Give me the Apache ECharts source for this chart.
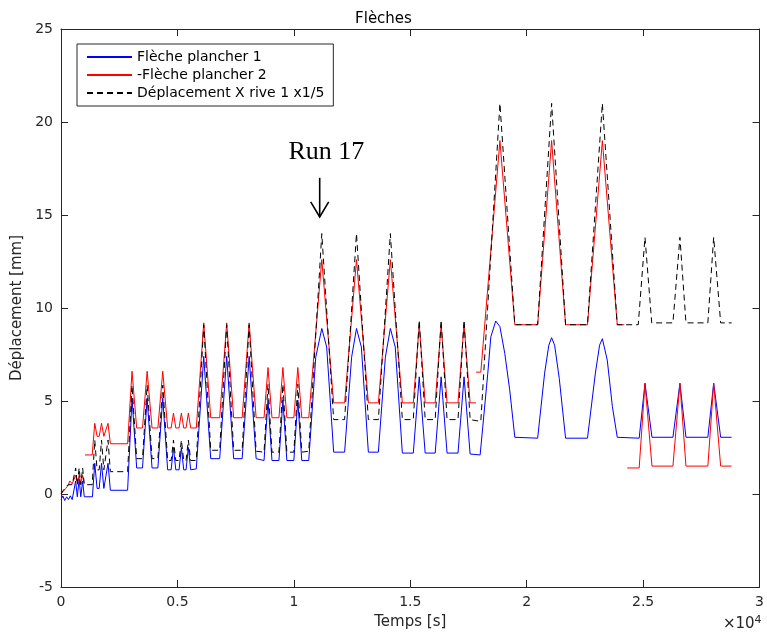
<!DOCTYPE html>
<html><head><meta charset="utf-8">
<script src="https://cdn.jsdelivr.net/npm/echarts@6/dist/echarts.min.js"></script>
<style>html,body{margin:0;padding:0;background:#fff}#c{width:767px;height:635px}</style>
</head><body><div id="c"></div>
<script>
// ---- Data (time in s, displacement in mm) ----
const seriesNames = ['Flèche plancher 1', '-Flèche plancher 2', 'Déplacement X rive 1 x1/5'];
const xTicks = [0, 5000, 10000, 15000, 20000, 25000, 30000];
const yTicks = [-5, 0, 5, 10, 15, 20, 25];

const tBlue = [0,80,160,240,320,400,480,560,630,700,780,850,930,1000,1350,1450,1550,1640,1740,1840,1920,2020,2120,2860,
  3050,3250,3500,3700,3910,4160,4370,4580,4730,4830,4930,5070,5170,5270,5370,5470,5570,5810,
  6130,6430,6815,7115,7415,7780,8080,8380,8720,8890,9060,9360,9530,9700,10000,10170,10340,10640,
  10940,11200,11410,11710,12180,12480,12690,12900,13200,13630,13930,14145,14355,14660,
  15130,15385,15640,16070,16325,16580,17050,17310,17570,18000,
  18330,18460,18670,18850,19060,19270,19490,20470,20770,20950,21070,21200,21400,21670,
  22610,22950,23130,23250,23460,23680,23890,24830,25080,25380,26280,26580,26840,27780,28030,28330,28800];
const vBlue = [-0.3,-0.1,-0.35,-0.15,-0.3,-0.1,-0.3,-0.2,0.7,-0.15,0.8,-0.15,0.7,-0.15,-0.15,1.65,0.3,0.3,1.65,0.3,0.3,1.65,0.2,0.2,
  5.15,1.4,1.4,5.15,1.4,1.4,5.15,1.3,1.3,2.5,1.3,1.3,2.5,1.3,1.3,2.5,1.3,1.35,
  7.4,1.9,1.9,7.4,1.9,1.9,7.4,1.9,1.8,5.05,1.8,1.8,5.05,1.8,1.8,5.05,1.8,1.8,
  7.35,8.9,7.9,2.25,2.25,7.35,8.9,7.9,2.25,2.25,7.35,8.9,7.9,2.2,
  2.2,6.3,2.2,2.2,6.3,2.2,2.2,6.3,2.15,2.1,
  6.5,8.45,9.3,9.0,7.55,5.6,3.05,3.0,6.5,8.0,8.4,8.0,6.2,3.0,
  3.0,6.5,8.0,8.35,7.2,4.7,3.05,3.0,5.95,3.05,3.05,5.95,3.05,3.05,5.95,3.05,3.05];

const tRed = [0,100,200,300,380,480,560,630,700,780,850,930,990,1010,1030,1340,1450,1550,1640,1740,1840,1920,2020,2120,2860,
  3050,3250,3500,3700,3910,4160,4370,4580,4730,4830,4930,5070,5170,5270,5370,5470,5570,5810,
  6130,6430,6815,7115,7415,7780,8080,8380,8720,8890,9060,9360,9530,9700,10000,10170,10340,10640,
  11200,11710,12180,12690,13200,13630,14145,14660,15130,15385,15640,16070,16325,16580,17050,17310,17570,17820,17825,17830,18030,
  18850,19490,20470,21070,21670,22610,23250,23890,24190,24250,24320,24830,25080,25380,26280,26580,26840,27780,28030,28330,28800];
const vRed = [0,0.15,0.3,0.45,0.7,0.55,0.6,1.0,0.6,1.0,0.6,1.0,0.6,null,2.1,2.1,3.8,3.1,3.1,3.8,3.1,3.1,3.8,2.7,2.7,
  6.6,3.55,3.55,6.6,3.55,3.55,6.6,3.55,3.55,4.35,3.55,3.55,4.35,3.55,3.55,4.35,3.55,3.55,
  9.2,4.1,4.1,9.2,4.1,4.1,9.2,4.1,4.1,6.8,4.1,4.1,6.8,4.1,4.1,6.8,4.1,4.1,
  12.6,4.9,4.9,12.6,4.9,4.9,12.6,4.9,4.9,9.1,4.9,4.9,9.1,4.9,4.9,9.1,4.9,4.9,null,6.55,6.55,
  19.0,9.1,9.1,19.0,9.1,9.1,19.0,9.1,9.1,null,1.4,1.4,5.95,1.5,1.5,5.95,1.5,1.5,5.95,1.5,1.5];

const tBlack = [0,100,200,300,380,480,560,630,700,780,850,930,1000,1340,1450,1550,1640,1740,1840,1920,2020,2120,2860,
  3050,3250,3500,3700,3910,4160,4370,4580,4730,4830,4930,5070,5170,5270,5370,5470,5570,5810,
  6130,6430,6815,7115,7415,7780,8080,8380,8720,8890,9060,9360,9530,9700,10000,10170,10340,10640,
  11200,11710,12180,12690,13200,13630,14145,14660,15130,15385,15640,16070,16325,16580,17050,17310,17570,18030,
  18850,19490,20470,21070,21670,22610,23250,23890,24790,25080,25370,26280,26580,26840,27780,28030,28330,28800];
const vBlack = [0,0.2,0.35,0.5,0.6,0.5,0.5,1.4,0.5,1.4,0.5,1.4,0.5,0.5,2.9,1.3,1.3,2.9,1.3,1.3,2.9,1.2,1.2,
  5.85,1.9,1.9,5.85,1.9,1.9,5.85,1.8,1.8,2.9,1.8,1.8,2.9,1.8,1.8,2.9,1.8,1.8,
  9.1,2.35,2.35,9.1,2.35,2.35,9.1,2.3,2.25,5.9,2.25,2.25,5.9,2.25,2.25,5.9,2.25,2.3,
  14.0,4.0,4.0,14.0,4.0,4.0,14.0,4.0,4.0,9.35,4.0,4.0,9.35,4.0,4.0,9.35,4.0,3.9,
  21.0,9.1,9.1,21.0,9.1,9.1,21.0,9.1,9.1,13.8,9.2,9.2,13.8,9.2,9.2,13.8,9.2,9.2];

// annotation anchor (data coords)
const runLabel = 'Run 17';
const runArrow = {t: 11110, yTop: 17.0, yTip: 14.9, textY: 18.4, textT: 11400};

// ---- Chart ----
const pairs = (t, v) => t.map((x, i) => [x, v[i] === null ? null : v[i]]);
const FONT = 'DejaVu Sans';
const AX = '#262626';
const chart = echarts.init(document.getElementById('c'), null, {renderer: 'canvas'});

const axCommon = {
  type: 'value', splitLine: {show: false},
  axisLine: {show: true, onZero: false, lineStyle: {color: AX, width: 1}},
  axisTick: {show: true, inside: true, length: 7, lineStyle: {color: AX, width: 1}}
};

chart.setOption({
  animation: false,
  backgroundColor: '#fff',
  title: {text: 'Flèches', left: 'center', top: 7, textStyle: {fontFamily: FONT, fontSize: 15, fontWeight: 'normal', color: '#000'}},
  grid: {left: 61, right: 4, top: 29, bottom: 48, containLabel: false},
  legend: {
    orient: 'vertical', left: 77, top: 44, itemWidth: 45, itemHeight: 14, itemGap: 4,
    padding: [6, 9, 6, 9], borderColor: AX, borderWidth: 1, backgroundColor: '#fff',
    itemStyle: {opacity: 0},
    textStyle: {fontFamily: FONT, fontSize: 14, color: '#000'},
    data: seriesNames
  },
  xAxis: [
    Object.assign({}, axCommon, {min: xTicks[0], max: xTicks[xTicks.length - 1], interval: xTicks[1] - xTicks[0], position: 'bottom',
      axisLabel: {formatter: v => String(v / 10000), color: AX, fontFamily: FONT, fontSize: 14, margin: 8},
      name: 'Temps [s]', nameLocation: 'middle', nameGap: 28,
      nameTextStyle: {fontFamily: FONT, fontSize: 15, color: AX}}),
    Object.assign({}, axCommon, {min: xTicks[0], max: xTicks[xTicks.length - 1], interval: xTicks[1] - xTicks[0], position: 'top',
      axisLabel: {show: false}})
  ],
  yAxis: [
    Object.assign({}, axCommon, {min: yTicks[0], max: yTicks[yTicks.length - 1], interval: yTicks[1] - yTicks[0], position: 'left',
      axisLabel: {color: AX, fontFamily: FONT, fontSize: 14, margin: 8},
      name: 'Déplacement [mm]', nameLocation: 'middle', nameGap: 33,
      nameTextStyle: {fontFamily: FONT, fontSize: 15, color: AX}}),
    Object.assign({}, axCommon, {min: yTicks[0], max: yTicks[yTicks.length - 1], interval: yTicks[1] - yTicks[0], position: 'right',
      axisLabel: {show: false}})
  ],
  series: [
    {name: seriesNames[0], type: 'line', symbol: 'none', data: pairs(tBlue, vBlue), connectNulls: false,
      color: '#0000ff', lineStyle: {color: '#0000ff', width: 1}},
    {name: seriesNames[1], type: 'line', symbol: 'none', data: pairs(tRed, vRed), connectNulls: false,
      color: '#ff0000', lineStyle: {color: '#ff0000', width: 1}},
    {name: seriesNames[2], type: 'line', symbol: 'none', data: pairs(tBlack, vBlack), connectNulls: false,
      color: '#000000', lineStyle: {color: '#000000', width: 1, type: [6, 4]}}
  ]
});

const pTop = chart.convertToPixel({xAxisIndex: 0, yAxisIndex: 0}, [runArrow.t, runArrow.yTop]);
const pTip = chart.convertToPixel({xAxisIndex: 0, yAxisIndex: 0}, [runArrow.t, runArrow.yTip]);
const pTxt = chart.convertToPixel({xAxisIndex: 0, yAxisIndex: 0}, [runArrow.textT, runArrow.textY]);
const gridRight = chart.convertToPixel({xAxisIndex: 0}, xTicks[xTicks.length - 1]);

chart.setOption({
  graphic: [
    {type: 'text', x: pTxt[0], y: pTxt[1], style: {text: runLabel, font: '26px "Liberation Serif"', fill: '#000', textAlign: 'center', textVerticalAlign: 'middle'}},
    {type: 'line', shape: {x1: pTop[0], y1: pTop[1], x2: pTip[0], y2: pTip[1]}, style: {stroke: '#000', lineWidth: 1.6}},
    {type: 'polyline', shape: {points: [[pTip[0] - 9, pTip[1] - 15], [pTip[0], pTip[1]], [pTip[0] + 9, pTip[1] - 15]]}, style: {stroke: '#000', lineWidth: 1.6, fill: null}},
    {type: 'text', x: gridRight + 2, y: 634, style: {
      text: '{a|×10}{b|4}', textAlign: 'right', textVerticalAlign: 'bottom',
      rich: {a: {fontFamily: FONT, fontSize: 15, fill: AX}, b: {fontFamily: FONT, fontSize: 11, fill: AX, verticalAlign: 'top', padding: [0, 0, 8, 0]}}
    }}
  ]
});
</script></body></html>
